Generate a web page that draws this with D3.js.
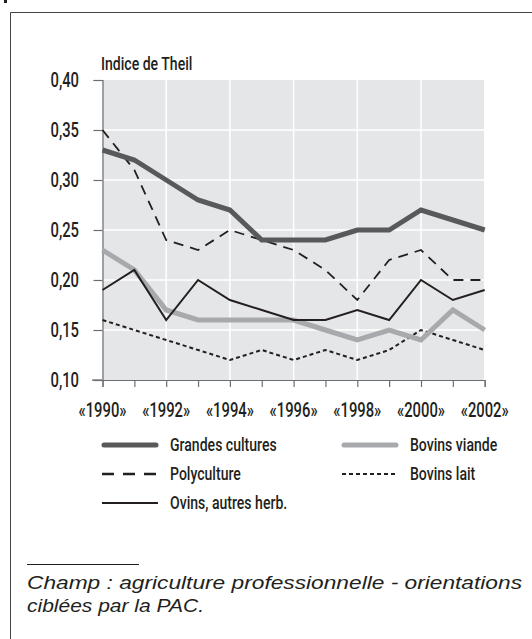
<!DOCTYPE html>
<html>
<head>
<meta charset="utf-8">
<script src="https://cdn.jsdelivr.net/npm/d3@7"></script>
<style>
  body { margin: 0; background: #fff; }
</style>
</head>
<body>
<div id="content"></div>
<script>
var w = 532;
var h = 639;

// data
var years = [1990, 1991, 1992, 1993, 1994, 1995, 1996, 1997, 1998, 1999, 2000, 2001, 2002];
var grandesCultures = [0.33, 0.32, 0.30, 0.28, 0.27, 0.24, 0.24, 0.24, 0.25, 0.25, 0.27, 0.26, 0.25];
var polyculture     = [0.35, 0.31, 0.24, 0.23, 0.25, 0.24, 0.23, 0.21, 0.18, 0.22, 0.23, 0.20, 0.20];
var bovinsViande    = [0.23, 0.21, 0.17, 0.16, 0.16, 0.16, 0.16, 0.15, 0.14, 0.15, 0.14, 0.17, 0.15];
var bovinsLait      = [0.16, 0.15, 0.14, 0.13, 0.12, 0.13, 0.12, 0.13, 0.12, 0.13, 0.15, 0.14, 0.13];
var ovins           = [0.19, 0.21, 0.16, 0.20, 0.18, 0.17, 0.16, 0.16, 0.17, 0.16, 0.20, 0.18, 0.19];
var yTicks = [0.10, 0.15, 0.20, 0.25, 0.30, 0.35, 0.40];
var xLabelYears = [1990, 1992, 1994, 1996, 1998, 2000, 2002];

var series = [
  {name: "Grandes cultures", values: grandesCultures, color: "#58595b", width: 5, dash: null, cap: "round"},
  {name: "Bovins viande", values: bovinsViande, color: "#a7a9ac", width: 5, dash: null, cap: "round"},
  {name: "Polyculture", values: polyculture, color: "#231f20", width: 1.8, dash: "10,7", cap: "butt"},
  {name: "Bovins lait", values: bovinsLait, color: "#231f20", width: 2, dash: "4,3", cap: "butt"},
  {name: "Ovins, autres herb.", values: ovins, color: "#231f20", width: 2, dash: null, cap: "butt"}
];
var drawOrder = [3, 2, 1, 0, 4];

var svg = d3.select("#content").append("svg")
  .attr("width", w)
  .attr("height", h);

// condensed label: regular font squeezed horizontally
var squeeze = 0.74;
function condText(parent, px, py, str, anchor, size) {
  return parent.append("text")
    .attr("transform", "translate(" + px + "," + py + ") scale(" + squeeze + ",1)")
    .attr("text-anchor", anchor || "start")
    .attr("font-family", "Roboto, 'Open Sans', sans-serif")
    .attr("font-weight", 500)
    .attr("font-size", size || 20)
    .attr("fill", "#231f20")
    .text(str);
}

// frame
svg.append("rect").attr("x", 4).attr("y", 0).attr("width", 3).attr("height", 3).attr("fill", "#231f20");
svg.append("path")
  .attr("d", "M10.5," + h + "V12.5H" + (w + 5))
  .attr("fill", "none")
  .attr("stroke", "#444")
  .attr("stroke-width", 1);

var x = d3.scaleLinear().domain([1990, 2002]).range([102.5, 484.7]);
var y = d3.scaleLinear().domain([0.10, 0.40]).range([380, 80]);

// background
svg.append("rect")
  .attr("x", x(1990)).attr("y", y(0.40))
  .attr("width", x(2002) - x(1990)).attr("height", y(0.10) - y(0.40))
  .attr("fill", "#e5e6e7");

// grid
svg.append("g").selectAll("line").data(yTicks.slice(1, -1)).enter().append("line")
  .attr("x1", x(1990)).attr("x2", x(2002))
  .attr("y1", function(d) { return y(d); }).attr("y2", function(d) { return y(d); })
  .attr("stroke", "#fff").attr("stroke-width", 1.5);
svg.append("g").selectAll("line").data(xLabelYears.slice(1)).enter().append("line")
  .attr("x1", function(d) { return x(d); }).attr("x2", function(d) { return x(d); })
  .attr("y1", y(0.40)).attr("y2", y(0.10))
  .attr("stroke", "#fff").attr("stroke-width", 1.5);

// axes
var yAxis = d3.axisLeft(y).tickValues(yTicks).tickSize(9).tickFormat("");
var gy = svg.append("g").attr("transform", "translate(" + x(1990) + ",0)").call(yAxis);
gy.select(".domain").attr("stroke", "#6d6e71").attr("stroke-width", 1.2);
gy.selectAll(".tick line").attr("stroke", "#6d6e71").attr("stroke-width", 1.2);

var xAxis = d3.axisBottom(x).tickValues(years).tickSize(7).tickFormat("");
var gx = svg.append("g").attr("transform", "translate(0," + y(0.10) + ")").call(xAxis);
gx.select(".domain").attr("stroke", "#6d6e71").attr("stroke-width", 1.2);
gx.selectAll(".tick line").attr("stroke", "#6d6e71").attr("stroke-width", 1.2);
svg.append("line").attr("x1", 92).attr("x2", x(1990)).attr("y1", y(0.10)).attr("y2", y(0.10))
  .attr("stroke", "#6d6e71").attr("stroke-width", 1.2);

var fmt = function(d) { return d3.format(".2f")(d).replace(".", ","); };
var labels = svg.append("g");
yTicks.forEach(function(d) {
  condText(labels, 79, y(d) + 7, fmt(d), "end", 20);
});
xLabelYears.forEach(function(d) {
  condText(labels, x(d), 417, "\u00ab" + d + "\u00bb", "middle", 20);
});
condText(labels, 101, 70, "Indice de Theil", "start", 19);

// lines
var line = d3.line()
  .x(function(d, i) { return x(years[i]); })
  .y(function(d) { return y(d); });

svg.append("g").selectAll("path").data(drawOrder.map(function(i) { return series[i]; })).enter().append("path")
  .attr("d", function(d) { return line(d.values); })
  .attr("fill", "none")
  .attr("stroke", function(d) { return d.color; })
  .attr("stroke-width", function(d) { return d.width; })
  .attr("stroke-dasharray", function(d) { return d.dash; })
  .attr("stroke-linejoin", "miter")
  .attr("stroke-linecap", "butt");

// legend
var legendPos = [
  {lx: 102, ty: 445}, {lx: 342, ty: 445},
  {lx: 102, ty: 474}, {lx: 342, ty: 474},
  {lx: 102, ty: 503}
];
var lg = svg.append("g").selectAll("g").data(series).enter().append("g")
  .attr("transform", function(d, i) { return "translate(" + legendPos[i].lx + "," + legendPos[i].ty + ")"; });
lg.append("line")
  .attr("x1", function(d) { return d.cap === "round" ? 2 : 0; })
  .attr("x2", function(d) { return d.cap === "round" ? 54 : 56; })
  .attr("y1", 0).attr("y2", 0)
  .attr("stroke", function(d) { return d.color; })
  .attr("stroke-width", function(d) { return d.dash === "10,7" ? 2.5 : d.width; })
  .attr("stroke-dasharray", function(d) { return d.dash === "10,7" ? "12,9" : d.dash; })
  .attr("stroke-linecap", function(d) { return d.cap; });
lg.each(function(d) {
  condText(d3.select(this), 68, 6, d.name, "start", 19);
});

// note
svg.append("line").attr("x1", 27).attr("x2", 139).attr("y1", 564.5).attr("y2", 564.5)
  .attr("stroke", "#231f20").attr("stroke-width", 1);
var notes = ["Champ : agriculture professionnelle - orientations", "cibl\u00e9es par la PAC."];
var noteLen = [495, 177];
svg.append("g").selectAll("text").data(notes).enter().append("text")
  .attr("x", 27)
  .attr("y", function(d, i) { return 589 + i * 23; })
  .attr("font-family", "Liberation Sans, Arial, sans-serif")
  .attr("font-style", "italic")
  .attr("font-size", 19)
  .attr("textLength", function(d, i) { return noteLen[i]; })
  .attr("lengthAdjust", "spacingAndGlyphs")
  .attr("fill", "#231f20")
  .text(function(d) { return d; });
</script>
</body>
</html>
